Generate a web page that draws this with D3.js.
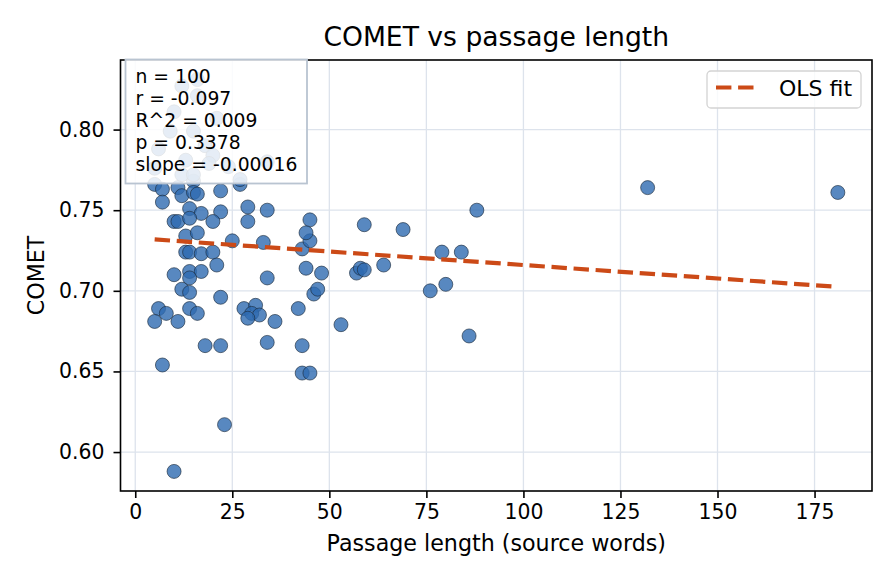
<!DOCTYPE html>
<html>
<head>
<meta charset="utf-8">
<title>COMET vs passage length</title>
<style>
  body { margin: 0; background: #fff; }
  text { font-family: "DejaVu Sans", sans-serif; fill: #000; }
</style>
</head>
<body>
<script src="https://cdnjs.cloudflare.com/ajax/libs/d3/7.8.5/d3.min.js"></script>
<script>
// passage length (source words), one entry per passage
var passageLength = [5, 7, 11, 12, 15, 15, 16, 22, 27, 7,
    14, 17, 22, 29, 34, 10, 11, 14, 20, 29,
    13, 16, 25, 33, 13, 14, 17, 20, 21, 10,
    14, 17, 14, 34, 12, 14, 22, 6, 8, 5,
    11, 14, 16, 18, 22, 7, 28, 31, 30, 32,
    29, 34, 36, 10, 23, 43, 43, 45, 42, 53,
    46, 47, 44, 48, 43, 45, 57, 58, 45, 44,
    59, 69, 88, 79, 84, 59, 64, 76, 80, 86,
    132, 181,
    12, 16, 16, 10, 9, 15, 18, 20, 13, 19,
    24, 34, 12, 15, 27, 5, 6, 21];

// COMET score for the same passages
var comet = [0.766, 0.763, 0.764, 0.759, 0.768, 0.761, 0.760, 0.762, 0.766, 0.755,
    0.751, 0.748, 0.749, 0.752, 0.750, 0.743, 0.743, 0.745, 0.743, 0.743,
    0.734, 0.736, 0.731, 0.730, 0.724, 0.724, 0.723, 0.724, 0.716, 0.710,
    0.712, 0.712, 0.708, 0.708, 0.701, 0.699, 0.696, 0.689, 0.686, 0.681,
    0.681, 0.689, 0.686, 0.666, 0.666, 0.654, 0.689, 0.691, 0.686, 0.685,
    0.683, 0.668, 0.681, 0.588, 0.617, 0.666, 0.649, 0.649, 0.689, 0.679,
    0.698, 0.701, 0.714, 0.711, 0.726, 0.731, 0.711, 0.714, 0.744, 0.736,
    0.741, 0.738, 0.750, 0.724, 0.724, 0.713, 0.716, 0.700, 0.704, 0.672,
    0.764, 0.761,
    0.827, 0.831, 0.821, 0.811, 0.799, 0.799, 0.790, 0.784, 0.781, 0.779,
    0.777, 0.780, 0.772, 0.772, 0.769, 0.776, 0.788, 0.807];

var xTicks = [0, 25, 50, 75, 100, 125, 150, 175];
var yTicks = [0.60, 0.65, 0.70, 0.75, 0.80];

// OLS fit as shown
var fitIntercept = 0.7327;
var fitSlope = -0.000167;

var statsLines = ["n = 100", "r = -0.097", "R^2 = 0.009", "p = 0.3378", "slope = -0.00016"];

var width = 896, height = 584;
var plot = {left: 120.5, right: 872, top: 60, bottom: 491};

var svg = d3.select("body").append("svg")
    .attr("width", width)
    .attr("height", height);

// matplotlib-ish 5% margins
var xExt = d3.extent(passageLength), yExt = d3.extent(comet);
var xPad = (xExt[1] - xExt[0]) * 0.05, yPad = (yExt[1] - yExt[0]) * 0.05;

var x = d3.scaleLinear()
    .domain([xExt[0] - xPad, xExt[1] + xPad])
    .range([plot.left, plot.right]);
var y = d3.scaleLinear()
    .domain([yExt[0] - yPad, yExt[1] + yPad])
    .range([plot.bottom, plot.top]);

// grid
var grid = svg.append("g");
grid.selectAll(".gx").data(xTicks).enter().append("line")
    .attr("x1", d => x(d)).attr("x2", d => x(d))
    .attr("y1", plot.top).attr("y2", plot.bottom)
    .attr("stroke", "#dde3ec").attr("stroke-width", 1.3);
grid.selectAll(".gy").data(yTicks).enter().append("line")
    .attr("x1", plot.left).attr("x2", plot.right)
    .attr("y1", d => y(d)).attr("y2", d => y(d))
    .attr("stroke", "#dde3ec").attr("stroke-width", 1.3);

// points
var pts = passageLength.map((d, i) => ({len: d, score: comet[i]}));
svg.append("g").selectAll("circle").data(pts).enter().append("circle")
    .attr("cx", d => x(d.len))
    .attr("cy", d => y(d.score))
    .attr("r", 7)
    .attr("fill", "#2e6ab0")
    .attr("fill-opacity", 0.8)
    .attr("stroke", "#1b2a3c")
    .attr("stroke-width", 0.8)
    .attr("stroke-opacity", 0.8);

// fit line
var fitX = d3.extent(passageLength);
svg.append("line")
    .attr("x1", x(fitX[0])).attr("y1", y(fitIntercept + fitSlope * fitX[0]))
    .attr("x2", x(fitX[1])).attr("y2", y(fitIntercept + fitSlope * fitX[1]))
    .attr("stroke", "#cc4a17")
    .attr("stroke-width", 4.2)
    .attr("stroke-dasharray", "15.4,6.7");

// axes
var xAxis = svg.append("g")
    .attr("transform", "translate(0," + plot.bottom + ")")
    .call(d3.axisBottom(x).tickValues(xTicks).tickSize(7).tickPadding(7).tickFormat(d3.format("d")));
var yAxis = svg.append("g")
    .attr("transform", "translate(" + plot.left + ",0)")
    .call(d3.axisLeft(y).tickValues(yTicks).tickSize(7).tickPadding(9).tickFormat(d3.format(".2f")));
[xAxis, yAxis].forEach(function (g) {
    g.select(".domain").remove();
    g.selectAll(".tick line").attr("stroke", "#000").attr("stroke-width", 1.6);
    g.selectAll(".tick text").attr("font-size", 20.4).attr("font-family", "DejaVu Sans").attr("fill", "#000");
});

// frame
svg.append("rect")
    .attr("x", plot.left).attr("y", plot.top)
    .attr("width", plot.right - plot.left).attr("height", plot.bottom - plot.top)
    .attr("fill", "none").attr("stroke", "#000").attr("stroke-width", 1.6);

// stats box
var sb = svg.append("g");
sb.append("rect")
    .attr("x", 125.5).attr("y", 59.5).attr("width", 181.5).attr("height", 124)
    .attr("fill", "#fff").attr("fill-opacity", 0.85)
    .attr("stroke", "#b9c4d1").attr("stroke-width", 1.8);
sb.selectAll("text").data(statsLines).enter().append("text")
    .attr("x", 135.5)
    .attr("y", (d, i) => 82.5 + i * 22.1)
    .attr("font-size", 18.75)
    .text(d => d);

// legend
var lg = svg.append("g");
lg.append("rect")
    .attr("x", 707).attr("y", 71).attr("width", 154).attr("height", 37).attr("rx", 4)
    .attr("fill", "#fff").attr("fill-opacity", 0.8)
    .attr("stroke", "#d3d3d3").attr("stroke-width", 1.3);
lg.append("line")
    .attr("x1", 716).attr("x2", 754).attr("y1", 87.5).attr("y2", 87.5)
    .attr("stroke", "#cc4a17").attr("stroke-width", 4.2)
    .attr("stroke-dasharray", "15.4,6.7");
lg.append("text").attr("x", 779).attr("y", 95.5).attr("font-size", 22).text("OLS fit");

// titles
svg.append("text").attr("x", (plot.left + plot.right) / 2).attr("y", 45.5)
    .attr("text-anchor", "middle").attr("font-size", 26.6).text("COMET vs passage length");
svg.append("text").attr("x", (plot.left + plot.right) / 2).attr("y", 550.5)
    .attr("text-anchor", "middle").attr("font-size", 22.2).text("Passage length (source words)");
svg.append("text")
    .attr("transform", "translate(44," + (plot.top + plot.bottom) / 2 + ") rotate(-90)")
    .attr("text-anchor", "middle").attr("font-size", 22.2).text("COMET");
</script>
</body>
</html>
